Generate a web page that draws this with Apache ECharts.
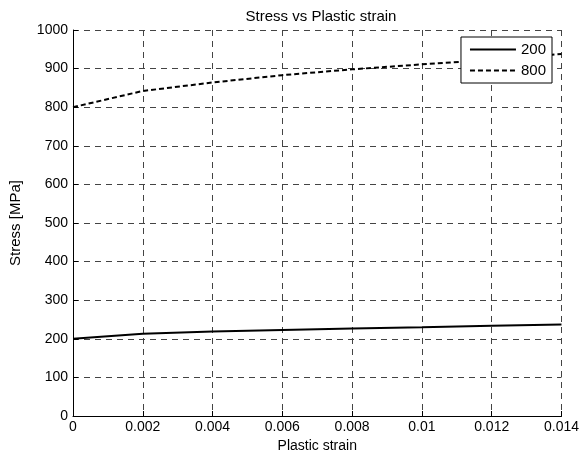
<!DOCTYPE html>
<html>
<head>
<meta charset="utf-8">
<script src="https://cdn.jsdelivr.net/npm/echarts@6/dist/echarts.min.js"></script>
<style>
  html, body { margin: 0; padding: 0; background: #fff; }
  #chart { width: 582px; height: 460px; }
</style>
</head>
<body>
<div id="chart"></div>
<script>
// values
const strain = [0, 0.002, 0.004, 0.006, 0.008, 0.01, 0.012, 0.014];
const stress200 = [200, 213, 219, 223, 227, 230, 234, 237];
const stress800 = [800, 842, 864, 883, 898, 911, 923, 938];
const seriesNames = ['200', '800'];

const chart = echarts.init(document.getElementById('chart'));

const font = 'Liberation Sans, Arial, sans-serif';
const gridLine = { show: true, lineStyle: { color: '#444', type: [6, 5], width: 1 } };

function pairs(ys) {
  return strain.map((x, i) => [x, ys[i]]);
}

const option = {
  animation: false,
  backgroundColor: '#fff',
  title: {
    text: 'Stress vs Plastic strain',
    left: 316,
    textAlign: 'center',
    top: 4,
    textStyle: { fontFamily: font, fontSize: 15, fontWeight: 'normal', color: '#000' }
  },
  grid: { left: 71, right: 18, top: 30, bottom: 44 },
  legend: {
    data: seriesNames,
    orient: 'vertical',
    right: 30,
    top: 37,
    itemWidth: 46,
    itemHeight: 10,
    itemGap: 6,
    padding: [5, 6, 5, 8],
    borderColor: '#000',
    borderWidth: 1,
    backgroundColor: '#fff',
    itemStyle: { opacity: 0 },
    textStyle: { fontFamily: font, fontSize: 15, color: '#000' }
  },
  xAxis: {
    type: 'value',
    name: 'Plastic strain',
    nameLocation: 'middle',
    nameGap: 23,
    nameTextStyle: { fontFamily: font, fontSize: 14, color: '#000' },
    min: 0,
    max: 0.014,
    interval: 0.002,
    axisLine: { show: true, onZero: false, lineStyle: { color: '#000', width: 1 } },
    axisTick: { show: true, inside: true, length: 5, lineStyle: { color: '#000' } },
    axisLabel: { fontFamily: font, fontSize: 14, color: '#000', margin: 4 },
    splitLine: gridLine
  },
  yAxis: {
    type: 'value',
    name: 'Stress [MPa]',
    nameLocation: 'middle',
    nameGap: 50,
    nameTextStyle: { fontFamily: font, fontSize: 15, color: '#000' },
    min: 0,
    max: 1000,
    interval: 100,
    axisLine: { show: true, lineStyle: { color: '#000', width: 1 } },
    axisTick: { show: true, inside: true, length: 5, lineStyle: { color: '#000' } },
    axisLabel: { fontFamily: font, fontSize: 14, color: '#000', margin: 5, formatter: v => String(v) },
    splitLine: gridLine
  },
  series: [
    {
      name: seriesNames[0],
      type: 'line',
      data: pairs(stress200),
      showSymbol: false,
      symbol: 'none',
      color: '#000',
      lineStyle: { color: '#000', width: 2, type: 'solid' }
    },
    {
      name: seriesNames[1],
      type: 'line',
      data: pairs(stress800),
      showSymbol: false,
      symbol: 'none',
      color: '#000',
      lineStyle: { color: '#000', width: 2, type: [5, 3] }
    }
  ]
};

chart.setOption(option);
</script>
</body>
</html>
